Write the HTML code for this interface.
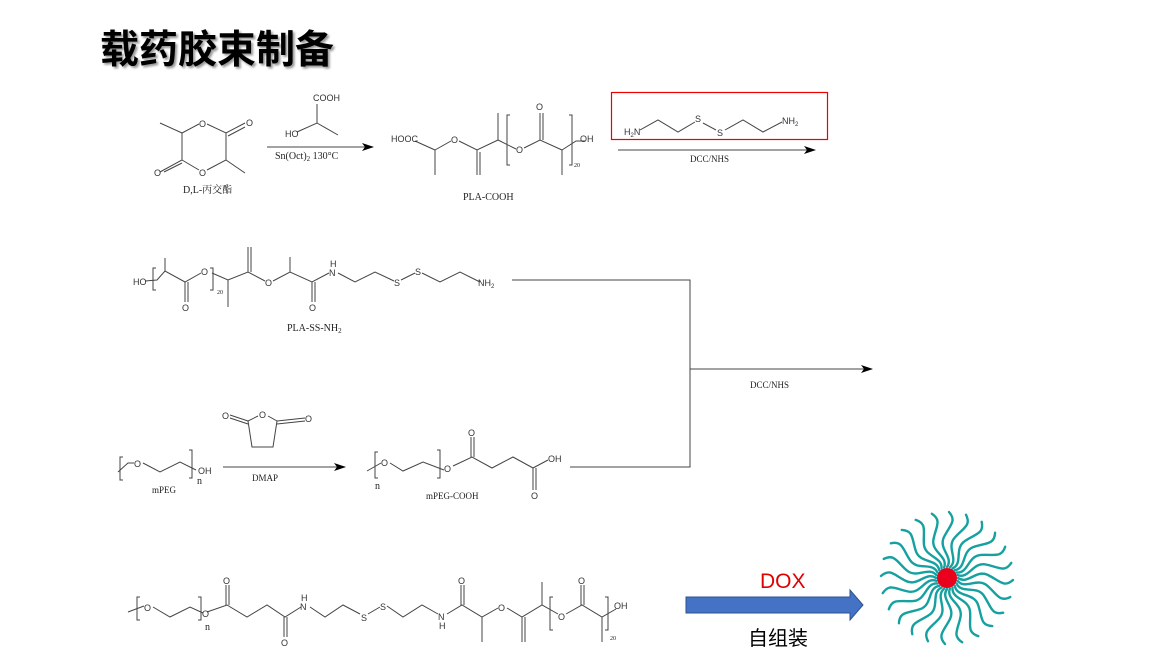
<!DOCTYPE html>
<html><head><meta charset="utf-8"><style>
body{margin:0;background:#fff;width:1176px;height:663px;overflow:hidden}
svg{position:absolute;left:0;top:0}
.t{font-family:"Liberation Sans",sans-serif;font-size:9px;fill:#333}
.s{font-family:"Liberation Serif",serif;font-size:10px;fill:#222}
</style></head><body>
<svg width="1176" height="663" viewBox="0 0 1176 663" xmlns="http://www.w3.org/2000/svg">
<defs><marker id="ah" markerWidth="12" markerHeight="8" refX="11" refY="4" orient="auto" markerUnits="userSpaceOnUse"><path d="M0,0 L12,4 L0,8 L3,4z" fill="#000"/></marker>
<path id="ray" d="M958,578 C968,585 976,569 988,575 S1004,588 1013,580"/></defs>
<text x="100" y="63" font-family="'Noto Sans CJK SC',sans-serif" font-weight="bold" font-size="39" fill="#000" style="text-shadow:2px 2px 2px #999">载药胶束制备</text>
<g stroke="#444" stroke-width="1" fill="none">
<polyline points="160,123 182,133 182,160 160,172"/>
<polyline points="182,133 199,124"/><polyline points="207,124 226,133 245,123"/><line x1="228" y1="136" x2="245" y2="127"/>
<polyline points="226,133 226,160 207,170"/><polyline points="199,170 182,160"/><line x1="182" y1="163" x2="164" y2="172"/>
<line x1="226" y1="160" x2="245" y2="173"/>
<polyline points="297,132 317,123 338,135"/><line x1="317" y1="123" x2="317" y2="104"/>
<line x1="267" y1="147" x2="373" y2="147" marker-end="url(#ah)"/>
<polyline points="415,141 435,150 435,175"/><polyline points="435,150 451,141"/><polyline points="459,141 477,150 498,140 498,113"/>
<line x1="477" y1="150" x2="477" y2="175"/><line x1="480" y1="152" x2="480" y2="175"/>
<polyline points="498,140 516,149"/><polyline points="524,148 540,140 562,150 562,175"/><line x1="540" y1="140" x2="540" y2="113"/><line x1="543" y1="140" x2="543" y2="113"/>
<polyline points="562,150 576,141 585,141"/>
<polyline points="510,115 507,115 507,165 510,165"/><polyline points="569,115 572,115 572,165 569,165"/>
<rect x="611.5" y="92.5" width="216" height="47" stroke="#e00" stroke-width="1.2"/>
<polyline points="640,130 658,120 678,132 695,122"/><line x1="703" y1="123" x2="716" y2="130"/><polyline points="725,130 743,120 763,132 782,122"/>
<line x1="618" y1="150" x2="815" y2="150" marker-end="url(#ah)"/>
<polyline points="145,281 157,280 165,271 185,282 201,273"/><line x1="165" y1="271" x2="165" y2="258"/>
<line x1="185" y1="282" x2="185" y2="302"/><line x1="188" y1="282" x2="188" y2="302"/>
<polyline points="156,268 153,268 153,290 156,290"/><polyline points="210,268 213,268 213,290 210,290"/>
<polyline points="212,273 228,280 248,272 265,281"/><line x1="228" y1="280" x2="228" y2="307"/>
<line x1="248" y1="272" x2="248" y2="247"/><line x1="251" y1="272" x2="251" y2="247"/>
<polyline points="273,281 290,272 312,282 329,273"/><line x1="290" y1="272" x2="290" y2="257"/>
<line x1="312" y1="282" x2="312" y2="302"/><line x1="315" y1="282" x2="315" y2="302"/>
<polyline points="338,273 355,282 375,272 394,281"/><line x1="401" y1="280" x2="415" y2="273"/><polyline points="422,273 440,282 460,272 480,282"/>
<polyline points="512,280 690,280 690,467 570,467"/>
<line x1="690" y1="369" x2="872" y2="369" marker-end="url(#ah)"/>
<polyline points="118,472 128,463 134,463"/><polyline points="143,463 160,472 180,462 196,470"/>
<polyline points="123,457 120,457 120,480 123,480"/><polyline points="189,450 192,450 192,478 189,478"/>
<polyline points="258,416 248,421 252,447 273,447 277,421 268,416"/>
<line x1="248" y1="421" x2="230" y2="415"/><line x1="248" y1="424" x2="230" y2="418"/>
<line x1="277" y1="421" x2="305" y2="418"/><line x1="277" y1="424" x2="305" y2="421"/>
<line x1="223" y1="467" x2="345" y2="467" marker-end="url(#ah)"/>
<polyline points="367,471 381,463"/><polyline points="390,463 403,471 423,462 444,470"/>
<polyline points="378,452 375,452 375,478 378,478"/><polyline points="437,450 440,450 440,478 437,478"/>
<polyline points="453,466 472,457 492,468 513,457 533,468 548,460"/>
<line x1="471" y1="457" x2="471" y2="437"/><line x1="474" y1="457" x2="474" y2="437"/>
<line x1="533" y1="468" x2="533" y2="490"/><line x1="536" y1="468" x2="536" y2="490"/>
<polyline points="128,612 144,606"/><polyline points="153,607 170,617 190,607 203,613"/>
<polyline points="140,597 137,597 137,620 140,620"/><polyline points="198,597 201,597 201,620 198,620"/>
<polyline points="207,612 227,605 247,617 267,605 285,617 301,607"/>
<line x1="226" y1="605" x2="226" y2="585"/><line x1="229" y1="605" x2="229" y2="585"/>
<line x1="284" y1="617" x2="284" y2="637"/><line x1="287" y1="617" x2="287" y2="637"/>
<polyline points="310,607 325,617 343,605 360,614"/><line x1="368" y1="614" x2="380" y2="607"/>
<polyline points="387,606 403,617 422,605 438,614"/>
<polyline points="447,614 462,605 482,617 498,608"/>
<line x1="461" y1="605" x2="461" y2="585"/><line x1="464" y1="605" x2="464" y2="585"/>
<line x1="482" y1="617" x2="482" y2="642"/>
<polyline points="507,608 522,617 542,605 558,614"/>
<line x1="522" y1="617" x2="522" y2="642"/><line x1="525" y1="617" x2="525" y2="642"/>
<line x1="542" y1="605" x2="542" y2="582"/>
<polyline points="566,614 582,605 602,617 616,609"/>
<line x1="581" y1="605" x2="581" y2="585"/><line x1="584" y1="605" x2="584" y2="585"/>
<line x1="602" y1="617" x2="602" y2="642"/>
<polyline points="553,597 550,597 550,630 553,630"/><polyline points="605,597 608,597 608,630 605,630"/>
</g>
<g class="t">
<text x="199" y="127">O</text><text x="199" y="176">O</text><text x="246" y="126">O</text><text x="154" y="176">O</text>
<text x="313" y="101">COOH</text><text x="285" y="137">HO</text>
<text x="391" y="142">HOOC</text><text x="451" y="143">O</text><text x="516" y="153">O</text><text x="536" y="110">O</text><text x="580" y="142">OH</text>
<text x="624" y="135">H<tspan font-size="6" dy="2">2</tspan><tspan dy="-2">N</tspan></text>
<text x="695" y="122">S</text><text x="717" y="136">S</text>
<text x="782" y="124">NH<tspan font-size="6" dy="2">2</tspan></text>
<text x="133" y="285">HO</text><text x="201" y="275">O</text><text x="182" y="311">O</text><text x="265" y="286">O</text><text x="309" y="311">O</text>
<text x="329" y="276">N</text><text x="330" y="267">H</text><text x="394" y="286">S</text><text x="415" y="275">S</text>
<text x="478" y="286">NH<tspan font-size="6" dy="2">2</tspan></text>
<text x="134" y="467">O</text><text x="198" y="474">OH</text>
<text x="259" y="418">O</text><text x="222" y="419">O</text><text x="305" y="422">O</text>
<text x="381" y="466">O</text><text x="444" y="472">O</text><text x="468" y="436">O</text><text x="548" y="462">OH</text><text x="531" y="499">O</text>
<text x="144" y="611">O</text><text x="202" y="617">O</text><text x="223" y="584">O</text><text x="281" y="646">O</text>
<text x="300" y="610">N</text><text x="301" y="601">H</text><text x="361" y="621">S</text><text x="380" y="610">S</text>
<text x="438" y="620">N</text><text x="439" y="629">H</text><text x="458" y="584">O</text><text x="498" y="611">O</text>
<text x="558" y="620">O</text><text x="578" y="584">O</text><text x="614" y="609">OH</text>
</g>
<g class="s">
<text x="183" y="193" font-family="'Liberation Serif','Noto Serif CJK SC',serif">D,L-丙交酯</text>
<text x="275" y="159">Sn(Oct)<tspan font-size="7" dy="2">2</tspan><tspan dy="-2">  130°C</tspan></text>
<text x="463" y="200">PLA-COOH</text><text x="574" y="167" font-size="6">20</text>
<text x="690" y="162" font-size="9">DCC/NHS</text>
<text x="217" y="294" font-size="6">20</text>
<text x="287" y="331">PLA-SS-NH<tspan font-size="7" dy="2">2</tspan></text>
<text x="750" y="388" font-size="9">DCC/NHS</text>
<text x="197" y="484">n</text><text x="152" y="493" font-size="9">mPEG</text><text x="252" y="481" font-size="9">DMAP</text>
<text x="375" y="489">n</text><text x="426" y="499" font-size="9">mPEG-COOH</text>
<text x="205" y="630">n</text><text x="610" y="640" font-size="6">20</text>
</g>
<path d="M686,597 L850,597 L850,590 L863,605 L850,620 L850,613 L686,613z" fill="#4472c4" stroke="#2f528f" stroke-width="1"/>
<text x="760" y="588" font-family="'Liberation Sans',sans-serif" font-size="21" fill="#e00000">DOX</text>
<text x="748" y="645" font-family="'Noto Sans CJK SC',sans-serif" font-size="20" fill="#000">自组装</text>
<g stroke="#16a0a0" stroke-width="2.4" fill="none" stroke-linecap="round">
<use href="#ray" transform="rotate(0 947 578)"/><use href="#ray" transform="rotate(15 947 578)"/>
<use href="#ray" transform="rotate(30 947 578)"/><use href="#ray" transform="rotate(45 947 578)"/>
<use href="#ray" transform="rotate(60 947 578)"/><use href="#ray" transform="rotate(75 947 578)"/>
<use href="#ray" transform="rotate(90 947 578)"/><use href="#ray" transform="rotate(105 947 578)"/>
<use href="#ray" transform="rotate(120 947 578)"/><use href="#ray" transform="rotate(135 947 578)"/>
<use href="#ray" transform="rotate(150 947 578)"/><use href="#ray" transform="rotate(165 947 578)"/>
<use href="#ray" transform="rotate(180 947 578)"/><use href="#ray" transform="rotate(195 947 578)"/>
<use href="#ray" transform="rotate(210 947 578)"/><use href="#ray" transform="rotate(225 947 578)"/>
<use href="#ray" transform="rotate(240 947 578)"/><use href="#ray" transform="rotate(255 947 578)"/>
<use href="#ray" transform="rotate(270 947 578)"/><use href="#ray" transform="rotate(285 947 578)"/>
<use href="#ray" transform="rotate(300 947 578)"/><use href="#ray" transform="rotate(315 947 578)"/>
<use href="#ray" transform="rotate(330 947 578)"/><use href="#ray" transform="rotate(345 947 578)"/>
</g>
<circle cx="947" cy="578" r="10" fill="#e8001c"/>
</svg>
</body></html>
